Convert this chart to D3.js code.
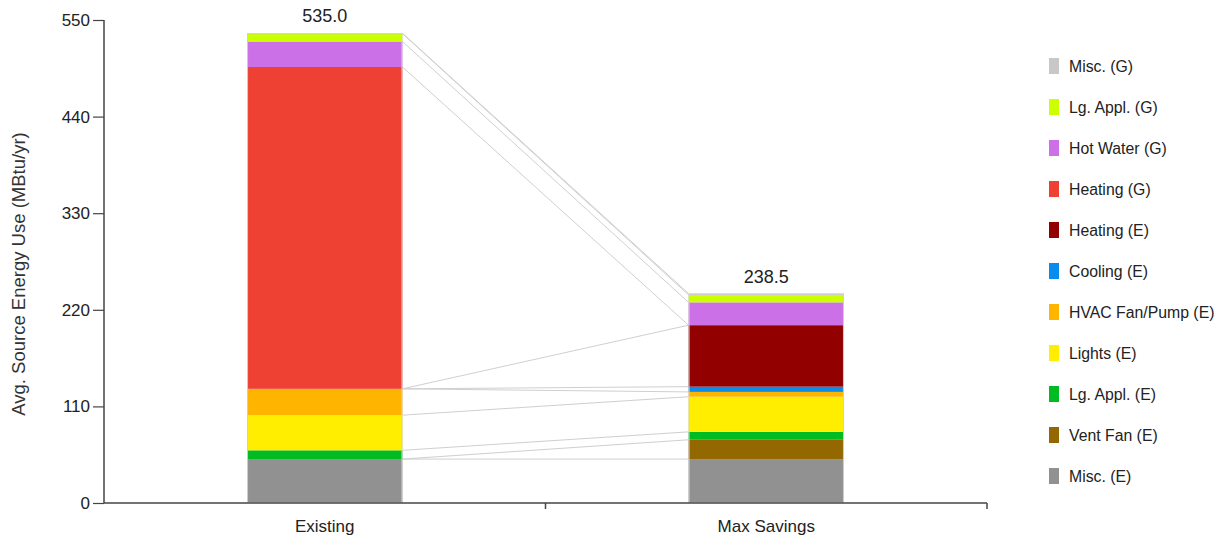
<!DOCTYPE html>
<html>
<head>
<meta charset="utf-8">
<script src="https://cdn.jsdelivr.net/npm/d3@7"></script>
<style>
  body { margin: 0; background: #fff; }
  svg { display: block; font-family: "Liberation Sans", Arial, sans-serif; }
</style>
</head>
<body>
<svg id="chart" width="1227" height="542"></svg>
<script>
// ---- data ----
const categories = ["Existing", "Max Savings"];
const seriesNames = ["Misc. (E)", "Vent Fan (E)", "Lg. Appl. (E)", "Lights (E)", "HVAC Fan/Pump (E)",
  "Cooling (E)", "Heating (E)", "Heating (G)", "Hot Water (G)", "Lg. Appl. (G)", "Misc. (G)"];
const seriesColors = ["#919191", "#946800", "#00bb22", "#ffee00", "#ffb400",
  "#0a8ced", "#920000", "#ef4034", "#cc70e8", "#ccff00", "#c8c8c8"];
const existingValues = [50, 0, 10, 40, 30, 0, 0, 366.5, 29, 9, 0.5];
const maxSavingsValues = [50, 22, 9, 40, 5.5, 6, 70, 0, 26, 8.5, 1.5];
const totals = [535.0, 238.5];
const yTicks = [0, 110, 220, 330, 440, 550];
const yLabel = "Avg. Source Energy Use (MBtu/yr)";

// ---- layout ----
const svg = d3.select("#chart");
const x0 = 104, x1 = 987, yTop = 20, yBot = 503;
const x = d3.scaleBand().domain(categories).range([x0, x1]);
const y = d3.scaleLinear().domain([0, 550]).range([yBot, yTop]);
const barW = x.bandwidth() * 0.352;
const barX = c => x(c) + (x.bandwidth() - barW) / 2;

const rows = [existingValues, maxSavingsValues];
const data = categories.map((c, ci) => {
  let acc = 0;
  return seriesNames.map((s, si) => {
    const v = rows[ci][si];
    const d = { cat: c, series: si, y0: acc, y1: acc + v };
    acc += v;
    return d;
  });
});

// connectors
const conn = svg.append("g");
seriesNames.forEach((s, si) => {
  const a = data[0][si], b = data[1][si];
  conn.append("line")
    .attr("x1", barX(categories[0]) + barW).attr("y1", y(a.y1))
    .attr("x2", barX(categories[1])).attr("y2", y(b.y1))
    .attr("stroke", "#cfcfcf").attr("stroke-width", 1);
});

// bars
categories.forEach((c, ci) => {
  const g = svg.append("g");
  g.selectAll("rect").data(data[ci].filter(d => d.y1 > d.y0)).join("rect")
    .attr("x", barX(c))
    .attr("width", barW)
    .attr("y", d => y(d.y1))
    .attr("height", d => y(d.y0) - y(d.y1))
    .attr("fill", d => seriesColors[d.series]);
  const top = data[ci][seriesNames.length - 1].y1;
  g.append("rect")
    .attr("x", barX(c) + 0.5).attr("width", barW - 1)
    .attr("y", y(top) + 0.5).attr("height", y(0) - y(top) - 1)
    .attr("fill", "none").attr("stroke", "#d0d0d0").attr("stroke-width", 1);
  svg.append("text")
    .attr("x", x(c) + x.bandwidth() / 2)
    .attr("y", y(top) - 11)
    .attr("text-anchor", "middle")
    .attr("font-size", 18).attr("fill", "#222")
    .text(d3.format(".1f")(totals[ci]));
});

// y axis
const yAxis = svg.append("g").attr("transform", `translate(${x0},0)`)
  .call(d3.axisLeft(y).tickValues(yTicks).tickSize(11).tickPadding(3));
yAxis.select(".domain").attr("stroke", "#444").attr("stroke-width", 1.5).attr("d", `M0,${yTop}V${yBot}`);
yAxis.selectAll(".tick line").attr("stroke", "#444").attr("stroke-width", 1.2);
yAxis.selectAll(".tick text").attr("font-size", 17).attr("fill", "#222")
  .attr("font-family", "Liberation Sans, Arial, sans-serif");

// x axis
const xAxis = svg.append("g").attr("transform", `translate(0,${yBot})`);
xAxis.append("path").attr("d", `M${x0},0H${x1}`).attr("stroke", "#444").attr("stroke-width", 1.5).attr("fill", "none");
categories.forEach(c => {
  const edge = x(c) + x.bandwidth();
  xAxis.append("line").attr("x1", edge).attr("x2", edge).attr("y1", 0).attr("y2", 6)
    .attr("stroke", "#444").attr("stroke-width", 1.5);
  xAxis.append("text")
    .attr("x", x(c) + x.bandwidth() / 2).attr("y", 29)
    .attr("text-anchor", "middle").attr("font-size", 17).attr("fill", "#222")
    .text(c);
});

// y label
svg.append("text")
  .attr("transform", `translate(25,274) rotate(-90)`)
  .attr("text-anchor", "middle").attr("font-size", 18.5).attr("fill", "#333")
  .text(yLabel);

// legend (top to bottom: reverse order)
const legend = svg.append("g");
const order = seriesNames.map((s, i) => i).reverse();
order.forEach((si, k) => {
  const cy = 66 + k * 41;
  legend.append("rect").attr("x", 1049).attr("y", cy - 8).attr("width", 10).attr("height", 16)
    .attr("fill", seriesColors[si]);
  legend.append("text").attr("x", 1069).attr("y", cy + 5.5).attr("font-size", 15.8).attr("fill", "#222")
    .text(seriesNames[si]);
});
</script>
</body>
</html>
